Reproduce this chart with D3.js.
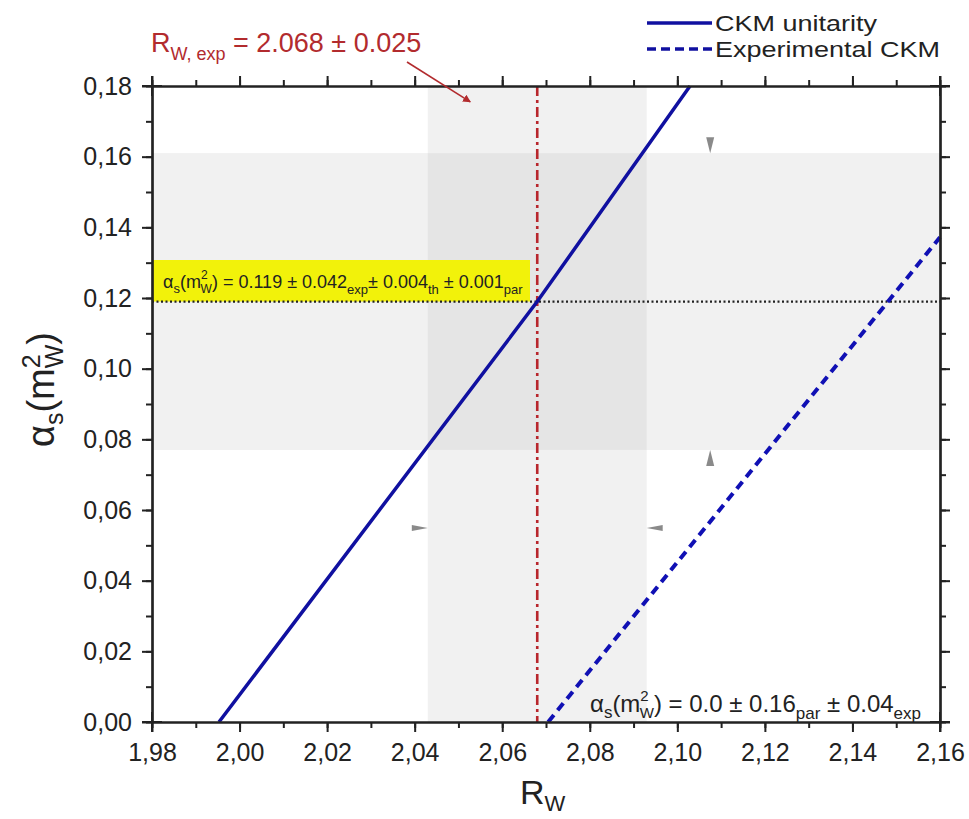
<!DOCTYPE html>
<html>
<head>
<meta charset="utf-8">
<script src="https://cdn.jsdelivr.net/npm/d3@7"></script>
<style>
  body { margin: 0; background: #fff; }
  svg text { font-family: "Liberation Sans", Arial, sans-serif; }
</style>
</head>
<body>
<svg width="969" height="819"></svg>
<script>
// data
const rwExp = 2.068, rwErr = 0.025;
const asFit = 0.119, asErr = 0.042;
const ckmUnitarityRw = [1.9953, 2.068, 2.1029];
const ckmUnitarityAs = [0.0, 0.119, 0.18];
const ckmExpRw = [2.0705, 2.16];
const ckmExpAs = [0.0, 0.1372];
const xTicks = [1.98, 2.00, 2.02, 2.04, 2.06, 2.08, 2.10, 2.12, 2.14, 2.16];
const yTicks = [0.00, 0.02, 0.04, 0.06, 0.08, 0.10, 0.12, 0.14, 0.16, 0.18];
const markerX = 2.1075, markerY = 0.0549;

const svg = d3.select('svg');
const pLeft = 152, pRight = 940, pTop = 86, pBottom = 722;

const x = d3.scaleLinear().domain([1.98, 2.16]).range([pLeft, pRight]);
const y = d3.scaleLinear().domain([0, 0.18]).range([pBottom, pTop]);
const fmt = d => d3.format('.2f')(d).replace('.', ',');

// shaded bands
svg.append('rect')
  .attr('x', pLeft).attr('width', pRight - pLeft)
  .attr('y', y(asFit + asErr)).attr('height', y(asFit - asErr) - y(asFit + asErr))
  .attr('fill', '#f1f1f1');
svg.append('rect')
  .attr('x', x(rwExp - rwErr)).attr('width', x(rwExp + rwErr) - x(rwExp - rwErr))
  .attr('y', pTop).attr('height', pBottom - pTop)
  .attr('fill', '#f1f1f1');
svg.append('rect')
  .attr('x', x(rwExp - rwErr)).attr('width', x(rwExp + rwErr) - x(rwExp - rwErr))
  .attr('y', y(asFit + asErr)).attr('height', y(asFit - asErr) - y(asFit + asErr))
  .attr('fill', '#e5e5e5');

// yellow label box
svg.append('rect')
  .attr('x', pLeft + 1).attr('y', 260).attr('width', 377).attr('height', y(asFit) - 260)
  .attr('fill', '#f2f20a');

// gray triangle markers (tips touch the band edges)
const tri = (cx, cy, dir) => {
  const s = 8, h = 16;
  let pts;
  if (dir === 'down') pts = [[cx - s / 2, cy - h], [cx + s / 2, cy - h], [cx, cy]];
  if (dir === 'up') pts = [[cx - s / 2, cy + h], [cx + s / 2, cy + h], [cx, cy]];
  if (dir === 'right') pts = [[cx - h, cy - s / 2 + 1], [cx - h, cy + s / 2 - 1], [cx, cy]];
  if (dir === 'left') pts = [[cx + h, cy - s / 2 + 1], [cx + h, cy + s / 2 - 1], [cx, cy]];
  svg.append('polygon').attr('points', pts.map(p => p.join(',')).join(' ')).attr('fill', '#8a8a8a');
};
tri(x(markerX), y(asFit + asErr), 'down');
tri(x(markerX), y(asFit - asErr), 'up');
tri(x(rwExp - rwErr), y(markerY), 'right');
tri(x(rwExp + rwErr), y(markerY), 'left');

// dotted horizontal line at alpha_s fit
svg.append('line')
  .attr('x1', pLeft).attr('x2', pRight)
  .attr('y1', y(asFit)).attr('y2', y(asFit))
  .attr('stroke', '#222').attr('stroke-width', 2.2).attr('stroke-dasharray', '2,2.5');

// red dash-dot at R_W exp
svg.append('line')
  .attr('x1', x(rwExp)).attr('x2', x(rwExp))
  .attr('y1', pTop).attr('y2', pBottom)
  .attr('stroke', '#b8262c').attr('stroke-width', 2.6).attr('stroke-dasharray', '10,4,3,4');

// curves
const line = d3.line().x(d => x(d[0])).y(d => y(d[1]));
svg.append('path')
  .datum(d3.zip(ckmUnitarityRw, ckmUnitarityAs))
  .attr('d', line).attr('fill', 'none')
  .attr('stroke', '#1010a0').attr('stroke-width', 3.5);
svg.append('path')
  .datum(d3.zip(ckmExpRw, ckmExpAs))
  .attr('d', line).attr('fill', 'none')
  .attr('stroke', '#1010b4').attr('stroke-width', 4).attr('stroke-dasharray', '9,6');

// axes
const minorX = d3.range(1.98, 2.1601, 0.01);
const minorY = d3.range(0, 0.1801, 0.01);
const styleAxis = g => {
  g.select('.domain').attr('stroke', '#222').attr('stroke-width', 2.2);
  g.selectAll('.tick line').attr('stroke', '#222').attr('stroke-width', 2);
  g.selectAll('.tick text').attr('font-size', 25).attr('fill', '#222')
    .style('font-family', '"Liberation Sans", Arial, sans-serif');
};
// minor ticks
svg.append('g').attr('transform', `translate(0,${pBottom})`)
  .call(d3.axisBottom(x).tickValues(minorX).tickSize(6).tickFormat('').tickSizeOuter(0)).call(styleAxis);
svg.append('g').attr('transform', `translate(0,${pTop})`)
  .call(d3.axisTop(x).tickValues(minorX).tickSize(6).tickFormat('').tickSizeOuter(0)).call(styleAxis);
svg.append('g').attr('transform', `translate(${pLeft},0)`)
  .call(d3.axisLeft(y).tickValues(minorY).tickSize(6).tickFormat('').tickSizeOuter(0)).call(styleAxis);
svg.append('g').attr('transform', `translate(${pRight},0)`)
  .call(d3.axisRight(y).tickValues(minorY).tickSize(6).tickFormat('').tickSizeOuter(0)).call(styleAxis);
// major ticks
svg.append('g').attr('transform', `translate(0,${pBottom})`)
  .call(d3.axisBottom(x).tickValues(xTicks).tickSize(10).tickPadding(11).tickFormat(fmt).tickSizeOuter(0))
  .call(styleAxis);
svg.append('g').attr('transform', `translate(0,${pTop})`)
  .call(d3.axisTop(x).tickValues(xTicks).tickSize(10).tickFormat('').tickSizeOuter(0)).call(styleAxis);
svg.append('g').attr('transform', `translate(${pLeft},0)`)
  .call(d3.axisLeft(y).tickValues(yTicks).tickSize(10).tickPadding(10).tickFormat(fmt).tickSizeOuter(0))
  .call(styleAxis);
svg.append('g').attr('transform', `translate(${pRight},0)`)
  .call(d3.axisRight(y).tickValues(yTicks).tickSize(10).tickFormat('').tickSizeOuter(0)).call(styleAxis);
// ticks crossing at corners
[[pLeft, pTop], [pRight, pTop], [pLeft, pBottom], [pRight, pBottom]].forEach(([cx, cy]) => {
  svg.append('line').attr('x1', cx).attr('x2', cx).attr('y1', cy - 10).attr('y2', cy + 10)
    .attr('stroke', '#222').attr('stroke-width', 2);
  svg.append('line').attr('x1', cx - 10).attr('x2', cx + 10).attr('y1', cy).attr('y2', cy)
    .attr('stroke', '#222').attr('stroke-width', 2);
});

// helper for sub/superscript text
const rich = (sel, parts) => {
  parts.forEach(p => {
    const t = sel.append('tspan').text(p.t);
    if (p.dy) t.attr('dy', p.dy);
    if (p.fs) t.attr('font-size', p.fs);
    if (p.dx) t.attr('dx', p.dx);
  });
  return sel;
};

// axis titles
rich(svg.append('text').attr('x', 520).attr('y', 804).attr('font-size', 34).attr('fill', '#222'),
  [{ t: 'R' }, { t: 'W', fs: 22, dy: 7 }]);
rich(svg.append('text')
  .attr('transform', 'translate(54,447) rotate(-90)')
  .attr('font-size', 38).attr('fill', '#222'),
  [{ t: 'α' }, { t: 's', fs: 25, dy: 9 }, { t: '(m', dy: -9 }, { t: '2', fs: 25, dy: -14 },
   { t: 'W', fs: 25, dy: 23, dx: -14 }, { t: ')', dy: -9 }]);

// red annotation
rich(svg.append('text').attr('x', 151).attr('y', 52).attr('font-size', 27).attr('fill', '#b22b2e'),
  [{ t: 'R' }, { t: 'W, exp', fs: 18, dy: 8 }, { t: ' = 2.068 ± 0.025', dy: -8 }]);
svg.append('defs').append('marker')
  .attr('id', 'arr').attr('viewBox', '0 0 10 10').attr('refX', 9).attr('refY', 5)
  .attr('markerWidth', 5).attr('markerHeight', 5).attr('orient', 'auto')
  .append('path').attr('d', 'M0,0 L10,5 L0,10 z').attr('fill', '#b22b2e');
svg.append('line')
  .attr('x1', 407).attr('y1', 62).attr('x2', x(2.0527)).attr('y2', y(0.1755))
  .attr('stroke', '#b22b2e').attr('stroke-width', 1.6).attr('marker-end', 'url(#arr)');

// fit label in yellow box
rich(svg.append('text').attr('x', 163).attr('y', 288).attr('font-size', 18).attr('fill', '#222'),
  [{ t: 'α' }, { t: 's', fs: 13, dy: 5 }, { t: '(m', dy: -5 }, { t: '2', fs: 12, dy: -9 },
   { t: 'W', fs: 12, dy: 14, dx: -7 }, { t: ') = 0.119 ± 0.042', dy: -5 },
   { t: 'exp', fs: 13, dy: 6 }, { t: '± 0.004', dy: -6 }, { t: 'th', fs: 13, dy: 6 },
   { t: ' ± 0.001', dy: -6 }, { t: 'par', fs: 13, dy: 6 }]);

// experimental CKM label
rich(svg.append('text').attr('x', 590).attr('y', 712).attr('font-size', 24).attr('fill', '#222'),
  [{ t: 'α' }, { t: 's', fs: 17, dy: 6 }, { t: '(m', dy: -6 }, { t: '2', fs: 15, dy: -11 },
   { t: 'W', fs: 15, dy: 17, dx: -9 }, { t: ') = 0.0 ± 0.16', dy: -6 },
   { t: 'par', fs: 17, dy: 7 }, { t: ' ± 0.04', dy: -7 }, { t: 'exp', fs: 17, dy: 7 }]);

// legend
const legend = [
  { label: 'CKM unitarity', dash: null, y: 23, ty: 31, w: 162 },
  { label: 'Experimental CKM', dash: '9,5', y: 49, ty: 57, w: 225 }
];
legend.forEach(l => {
  svg.append('line').attr('x1', 647).attr('x2', 712).attr('y1', l.y).attr('y2', l.y)
    .attr('stroke', '#1010a0').attr('stroke-width', 3.5).attr('stroke-dasharray', l.dash);
  svg.append('text').attr('x', 715).attr('y', l.ty).attr('font-size', 22).attr('fill', '#222')
    .attr('textLength', l.w).attr('lengthAdjust', 'spacingAndGlyphs').text(l.label);
});
</script>
</body>
</html>
